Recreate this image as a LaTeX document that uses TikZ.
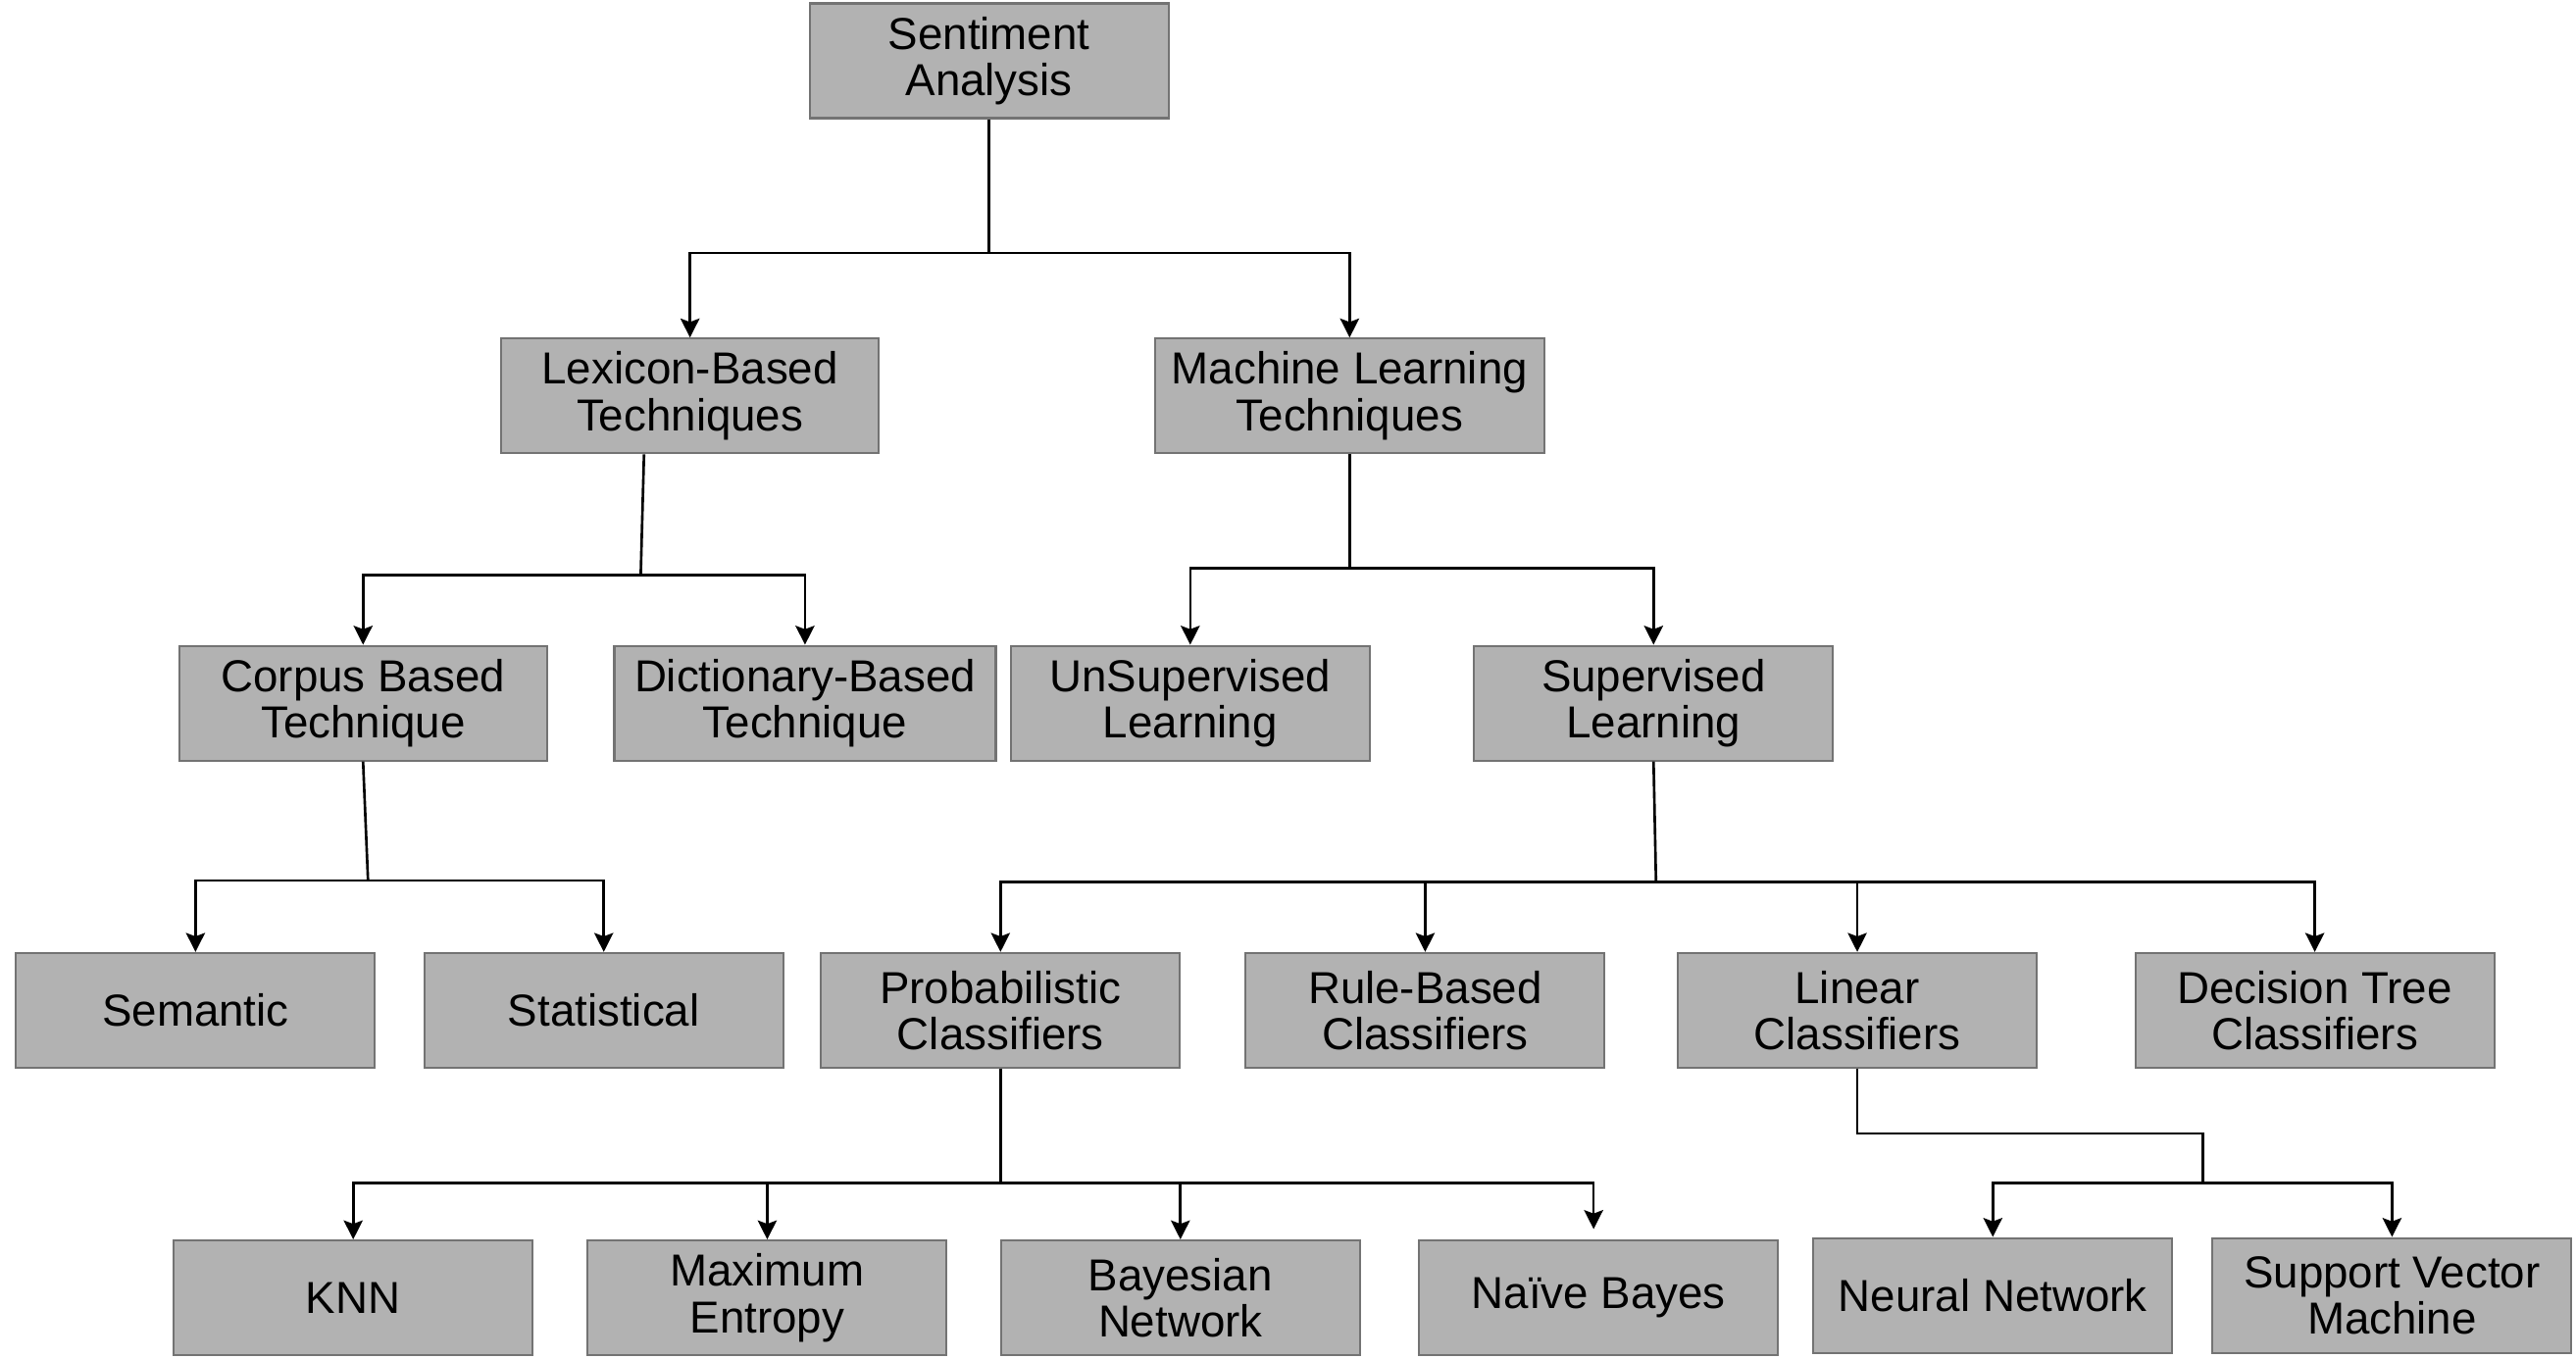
\documentclass[tikz,border=0pt]{standalone}
\usepackage{fontspec}
\setmainfont{Liberation Sans}
\usetikzlibrary{arrows.meta,calc}
\begin{document}
\begin{tikzpicture}[x=0.016754cm,y=-0.016754cm,
  box/.style={draw=black!55, line width=0.6pt, fill=black!30, minimum width=3.66cm,
    minimum height=1.17cm, align=center, inner sep=0pt,
    font=\fontsize{13}{13.5}\selectfont},
  conn/.style={line width=0.75pt, black},
  arr/.style={conn, -{Stealth[length=5.5pt,width=5.5pt,inset=1pt]}}]
\useasboundingbox (0,0) rectangle (1568,826.7);
% level 0
\node[box] (SA) at (602,37) {Sentiment\\Analysis};
% level 1
\node[box, minimum width=3.85cm] (Lex) at (420,241) {Lexicon-Based\\Techniques};
\node[box, minimum width=3.97cm] (ML) at (821.5,241) {Machine Learning\\Techniques};
% level 2
\node[box, minimum width=3.75cm] (Corp) at (221,428) {Corpus Based\\Technique};
\node[box, minimum width=3.89cm] (Dict) at (490,428) {Dictionary-Based\\Technique};
\node[box] (Unsup) at (724.5,428) {UnSupervised\\Learning};
\node[box] (Sup) at (1006.5,428) {Supervised\\Learning};
% level 3
\node[box] (Sem) at (119,615) {Semantic};
\node[box] (Stat) at (367.5,615) {Statistical};
\node[box] (Prob) at (609,615) {Probabilistic\\Classifiers};
\node[box] (Rule) at (867.5,615) {Rule-Based\\Classifiers};
\node[box] (Lin) at (1130.5,615) {Linear\\Classifiers};
\node[box] (DT) at (1409,615) {Decision Tree\\Classifiers};
% level 4
\node[box] (KNN) at (215,790) {KNN};
\node[box] (ME) at (467,790) {Maximum\\Entropy};
\node[box] (BN) at (718.5,790) {Bayesian\\Network};
\node[box] (NB) at (973,790) {Naïve Bayes};
\node[box] (NN) at (1213,788.5) {Neural Network};
\node[box] (SVM) at (1456,788.5) {Support Vector\\Machine};
% junctions
\coordinate (j0) at (602,154);
\coordinate (j1) at (390,350);
\coordinate (j2) at (821.5,346);
\coordinate (j3) at (224,536);
\coordinate (j4) at (1008,537);
\coordinate (j5) at (609,720);
\coordinate (j6a) at (1130.5,690);
\coordinate (j6b) at (1341,690);
\coordinate (j6) at (1341,720);
% connectors
\draw[conn] (SA.south) -- (j0);
\draw[arr] (j0) -| (Lex.north);
\draw[arr] (j0) -| (ML.north);
\draw[conn] ($(Lex.south)+(-28,0)$) -- (j1);
\draw[arr] (j1) -| (Corp.north);
\draw[arr] (j1) -| (Dict.north);
\draw[conn] (ML.south) -- (j2);
\draw[arr] (j2) -| (Unsup.north);
\draw[arr] (j2) -| (Sup.north);
\draw[conn] (Corp.south) -- (j3);
\draw[arr] (j3) -| (Sem.north);
\draw[arr] (j3) -| (Stat.north);
\draw[conn] (Sup.south) -- (j4);
\draw[arr] (j4) -| (Prob.north);
\draw[arr] (j4) -| (Rule.north);
\draw[arr] (j4) -| (Lin.north);
\draw[arr] (j4) -| (DT.north);
\draw[conn] (Prob.south) -- (j5);
\draw[arr] (j5) -| (KNN.north);
\draw[arr] (j5) -| (ME.north);
\draw[arr] (j5) -| (BN.north);
\draw[arr, shorten >=3pt] (j5) -| ($(NB.north)+(-3,0)$);
\draw[conn] (Lin.south) -- (j6a) -- (j6b) -- (j6);
\draw[arr] (j6) -| (NN.north);
\draw[arr] (j6) -| (SVM.north);
\end{tikzpicture}
\end{document}
